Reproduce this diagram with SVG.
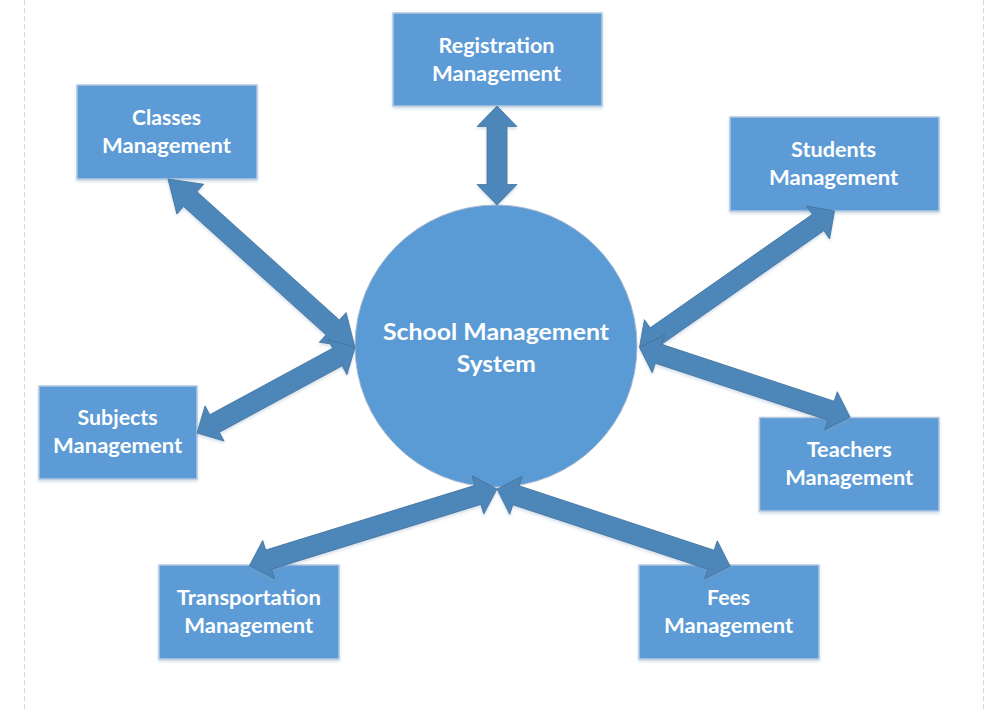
<svg xmlns="http://www.w3.org/2000/svg" width="992" height="712" viewBox="0 0 992 712">
  <defs>
    <filter id="sh" x="-10%" y="-10%" width="120%" height="130%">
      <feDropShadow dx="0" dy="2" stdDeviation="1.6" flood-color="#7f9fbf" flood-opacity="0.35"/>
    </filter>
  </defs>
  <style>
    .box { fill: #5B9BD5; stroke: #B3C8E0; stroke-width: 1.5; filter: url(#sh); }
    .hub { fill: #5B9BD5; stroke: #A7B9CC; stroke-width: 1; }
    .arr { fill: #4D86B9; stroke: #41719C; stroke-width: 0.75; stroke-linejoin: miter; }
    .t { font-family: Lato, "Open Sans", "Liberation Sans", sans-serif; font-weight: bold; font-size: 21px; fill: #FFFFFF; text-anchor: middle; }
    .tc { font-family: Lato, "Open Sans", "Liberation Sans", sans-serif; font-weight: bold; font-size: 23px; fill: #FFFFFF; text-anchor: middle; }
    .edge { stroke: #D9D9D9; stroke-width: 1; stroke-dasharray: 5 3; fill: none; }
  </style>
  <rect x="0" y="0" width="992" height="712" fill="#FFFFFF"/>
  <line class="edge" x1="24.5" y1="0" x2="24.5" y2="712"/>
  <line class="edge" x1="983.5" y1="0" x2="983.5" y2="712"/>

  <g id="hub">
    <circle class="hub" cx="496" cy="346" r="141"/>
    <text class="tc" x="496" y="339.5" textLength="226" lengthAdjust="spacingAndGlyphs">School Management</text>
    <text class="tc" x="496.3" y="371.7" textLength="79" lengthAdjust="spacingAndGlyphs">System</text>
  </g>

  <g id="registration">
    <rect class="box" x="393" y="13" width="209" height="93"/>
    <text class="t" x="496.5" y="52.5" textLength="116" lengthAdjust="spacingAndGlyphs">Registration</text>
    <text class="t" x="496.5" y="80.5" textLength="129" lengthAdjust="spacingAndGlyphs">Management</text>
  </g>
  <g id="classes">
    <rect class="box" x="77" y="85" width="180" height="94"/>
    <text class="t" x="166.5" y="124.5" textLength="69" lengthAdjust="spacingAndGlyphs">Classes</text>
    <text class="t" x="166.5" y="152.7" textLength="129" lengthAdjust="spacingAndGlyphs">Management</text>
  </g>
  <g id="students">
    <rect class="box" x="730" y="117" width="209" height="94"/>
    <text class="t" x="833.6" y="156.7" textLength="85" lengthAdjust="spacingAndGlyphs">Students</text>
    <text class="t" x="833.6" y="185" textLength="129" lengthAdjust="spacingAndGlyphs">Management</text>
  </g>
  <g id="teachers">
    <rect class="box" x="759.5" y="417.5" width="179.5" height="93.5"/>
    <text class="t" x="849.2" y="456.7" textLength="85" lengthAdjust="spacingAndGlyphs">Teachers</text>
    <text class="t" x="849.2" y="485" textLength="128" lengthAdjust="spacingAndGlyphs">Management</text>
  </g>
  <g id="subjects">
    <rect class="box" x="39" y="386" width="158" height="93"/>
    <text class="t" x="117.6" y="425" textLength="80" lengthAdjust="spacingAndGlyphs">Subjects</text>
    <text class="t" x="117.6" y="453.3" textLength="129" lengthAdjust="spacingAndGlyphs">Management</text>
  </g>
  <g id="transportation">
    <rect class="box" x="159" y="565" width="180" height="94"/>
    <text class="t" x="248.8" y="605" textLength="144" lengthAdjust="spacingAndGlyphs">Transportation</text>
    <text class="t" x="248.8" y="632.7" textLength="129" lengthAdjust="spacingAndGlyphs">Management</text>
  </g>
  <g id="fees">
    <rect class="box" x="639" y="565" width="180" height="94"/>
    <text class="t" x="728.6" y="605" textLength="43" lengthAdjust="spacingAndGlyphs">Fees</text>
    <text class="t" x="728.6" y="632.7" textLength="129" lengthAdjust="spacingAndGlyphs">Management</text>
  </g>

  <g id="connectors" filter="url(#sh)">
    <polygon class="arr" transform="translate(497,106) rotate(90)" points="0,0 20.5,-20 20.5,-10 78.5,-10 78.5,-20 99,0 78.5,20 78.5,10 20.5,10 20.5,20"/>
    <polygon class="arr" transform="translate(168,179) rotate(42.02)" points="0,0 30,-20 30,-10 221.7,-10 221.7,-20 251.7,0 221.7,20 221.7,10 30,10 30,20"/>
    <polygon class="arr" transform="translate(355,347.5) rotate(151.58)" points="0,0 20,-20 20,-10 159.65,-10 159.65,-20 179.65,0 159.65,20 159.65,10 20,10 20,20"/>
    <polygon class="arr" transform="translate(639.5,347.5) rotate(-34.99)" points="0,0 20,-20 20,-10 218,-10 218,-20 238,0 218,20 218,10 20,10 20,20"/>
    <polygon class="arr" transform="translate(639.5,347.5) rotate(18.27)" points="0,0 20,-20 20,-10 201.7,-10 201.7,-20 221.7,0 201.7,20 201.7,10 20,10 20,20"/>
    <polygon class="arr" transform="translate(497,489) rotate(162.82)" points="0,0 20,-20 20,-10 239.05,-10 239.05,-20 259.05,0 239.05,20 239.05,10 20,10 20,20"/>
    <polygon class="arr" transform="translate(497,489) rotate(18.29)" points="0,0 20,-20 20,-10 225.4,-10 225.4,-20 245.4,0 225.4,20 225.4,10 20,10 20,20"/>
  </g>
</svg>
